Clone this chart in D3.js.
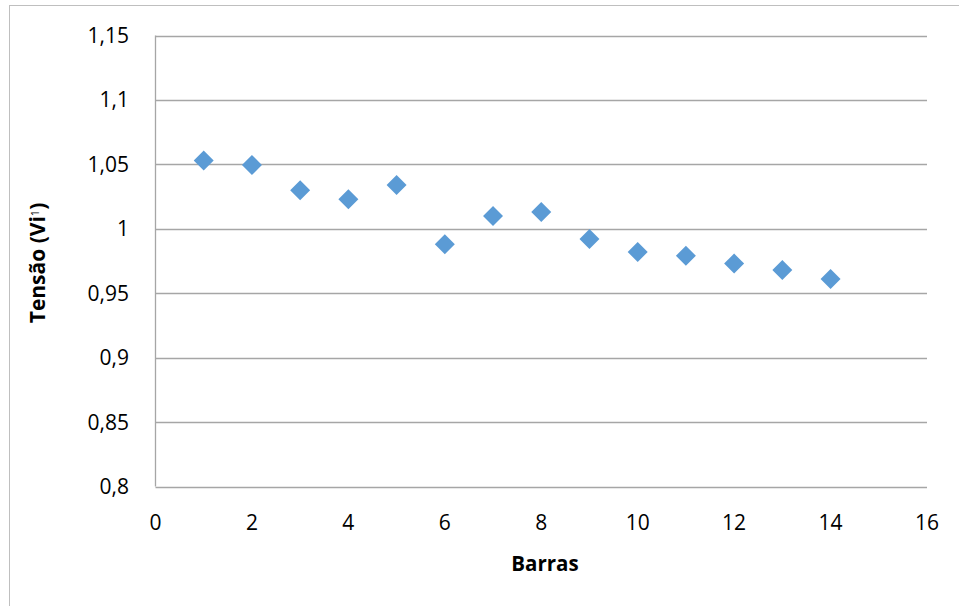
<!DOCTYPE html>
<html>
<head>
<meta charset="utf-8">
<script src="https://cdn.jsdelivr.net/npm/d3@7"></script>
<style>
  body { margin: 0; background: #fff; }
  svg text { font-family: "Open Sans", "Noto Sans", sans-serif; fill: #000; }
</style>
</head>
<body>
<svg width="959" height="606"></svg>
<script>
// data
const barras = [1, 2, 3, 4, 5, 6, 7, 8, 9, 10, 11, 12, 13, 14];
const tensao = [1.053, 1.0495, 1.030, 1.023, 1.034, 0.988, 1.010, 1.013, 0.992, 0.982, 0.979, 0.973, 0.968, 0.961];
const xTicks = [0, 2, 4, 6, 8, 10, 12, 14, 16];
const yTicks = [0.8, 0.85, 0.9, 0.95, 1, 1.05, 1.1, 1.15];

let svg = d3.select("svg");

// outer chart border
svg.append("rect")
    .attr("x", 9.5).attr("y", 5.5)
    .attr("width", 960).attr("height", 610)
    .attr("fill", "none")
    .attr("stroke", "#BFBFBF");

const x = d3.scaleLinear().domain([0, 16]).range([155.5, 927]);
const y = d3.scaleLinear().domain([0.8, 1.15]).range([486.5, 35.5]);

// grid lines
let grid = svg.append("g");
yTicks.map(t => {
    grid.append("line")
        .attr("x1", x(0)).attr("x2", x(16))
        .attr("y1", Math.round(y(t)) + 0.5).attr("y2", Math.round(y(t)) + 0.5)
        .attr("stroke", "#A6A6A6").attr("stroke-width", 1.3);
});
// left axis line
grid.append("line")
    .attr("x1", x(0)).attr("x2", x(0))
    .attr("y1", y(1.15)).attr("y2", y(0.8))
    .attr("stroke", "#A6A6A6").attr("stroke-width", 1.3);

// y tick labels
let fmt = v => String(v).replace(".", ",");
svg.append("g").selectAll("text").data(yTicks).enter().append("text")
    .attr("x", 129)
    .attr("y", d => y(d))
    .attr("dy", "0.36em")
    .attr("text-anchor", "end")
    .attr("font-size", 21)
    .text(fmt);

// x tick labels
svg.append("g").selectAll("text").data(xTicks).enter().append("text")
    .attr("x", d => x(d))
    .attr("y", 530)
    .attr("text-anchor", "middle")
    .attr("font-size", 21)
    .text(d => d);

// axis titles
svg.append("text")
    .attr("x", 545).attr("y", 571)
    .attr("text-anchor", "middle")
    .attr("font-size", 20.5).attr("font-weight", "bold")
    .text("Barras");

let yt = svg.append("text")
    .attr("transform", "translate(45,263) rotate(-90)")
    .attr("text-anchor", "middle")
    .attr("font-size", 21).attr("font-weight", "bold");
yt.append("tspan").text("Tensão (Vi");
yt.append("tspan").attr("font-size", 11).attr("font-weight", "normal").attr("dy", -6).text("1");
yt.append("tspan").attr("dy", 6).text(")");

// points
const diamond = d3.symbol().type(d3.symbolSquare).size(200);
svg.append("g").selectAll("path").data(barras).enter().append("path")
    .attr("d", diamond)
    .attr("transform", (d, i) => `translate(${x(d)},${y(tensao[i])}) rotate(45)`)
    .attr("fill", "#5B9BD5");
</script>
</body>
</html>
